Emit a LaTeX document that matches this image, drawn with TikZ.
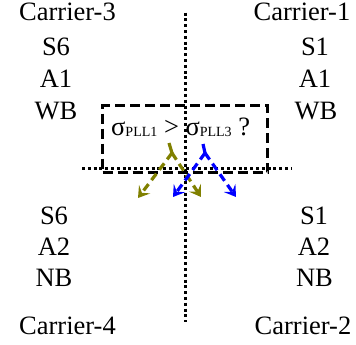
\documentclass[tikz,border=0pt]{standalone}
\usepackage{fontspec}
\setmainfont{Liberation Serif}
\usetikzlibrary{arrows.meta}
\begin{document}
\begin{tikzpicture}[x=1pt,y=-1pt,
  lbl/.style={anchor=base,inner sep=0pt,font=\fontsize{26.5}{30}\selectfont},
  sep/.style={line width=3pt,dash pattern=on 3pt off 2.8pt},
  qbox/.style={draw,line width=3pt,dash pattern=on 10pt off 5pt},
  split/.style={line width=3.2pt,dash pattern=on 8pt off 5pt,
    -{Stealth[length=11pt,width=14pt,inset=4.5pt]}},
  stem/.style={line width=3.2pt}]
\useasboundingbox (0,0) rectangle (356,345);
\definecolor{oliveA}{RGB}{128,128,0}
\definecolor{blueA}{RGB}{0,0,255}

% quadrant labels, upper half
\node[lbl] (c3) at (67.5,21) {Carrier-3};
\node[lbl] (s6a) at (56,56) {S6};
\node[lbl] (a1a) at (56,88) {A1};
\node[lbl] (wb) at (56,119) {WB};
\node[lbl] (c1) at (302,21) {Carrier-1};
\node[lbl] (s1a) at (315,56) {S1};
\node[lbl] (a1b) at (315,88) {A1};
\node[lbl] (wb2) at (316,119) {WB};

% quadrant labels, lower half
\node[lbl] (s6b) at (54,224) {S6};
\node[lbl] (a2a) at (54,255) {A2};
\node[lbl] (nb) at (54,286) {NB};
\node[lbl] (c4) at (67.5,334) {Carrier-4};
\node[lbl] (s1b) at (314,224) {S1};
\node[lbl] (a2b) at (314,255) {A2};
\node[lbl] (nb2) at (314.5,286) {NB};
\node[lbl] (c2) at (303,334) {Carrier-2};

% question box
\node[qbox,minimum width=165pt,minimum height=67pt,anchor=north west,inner sep=0pt] (box) at (101,104) {};
\node[anchor=base west,inner sep=0pt,font=\fontsize{26.5}{30}\selectfont] (q) at (111,135)
  {σ\raisebox{-1pt}{\fontsize{14}{16}\selectfont PLL1} {>} σ\raisebox{-1pt}{\fontsize{14}{16}\selectfont PLL3} ?};

% separating axes
\coordinate (vt) at (185,12.7);
\coordinate (vb) at (185,322);
\coordinate (hl) at (82,168.5);
\coordinate (hr) at (292,168.5);
\draw[sep] (vt) -- (vb);
\draw[sep] (hl) -- (hr);

% split arrows
\coordinate (oS) at (169,143);
\coordinate (oJ) at (172,153);
\coordinate (oL) at (138,198);
\coordinate (oR) at (201,197);
\coordinate (bS) at (203,144);
\coordinate (bJ) at (205,153);
\coordinate (bL) at (173,197);
\coordinate (bR) at (236,197);
\draw[stem,oliveA] (oS) -- (oJ);
\draw[split,oliveA] (oJ) -- (oL);
\draw[split,oliveA] (oJ) -- (oR);
\draw[stem,blueA] (bS) -- (bJ);
\draw[split,blueA] (bJ) -- (bL);
\draw[split,blueA] (bJ) -- (bR);
\end{tikzpicture}
\end{document}
